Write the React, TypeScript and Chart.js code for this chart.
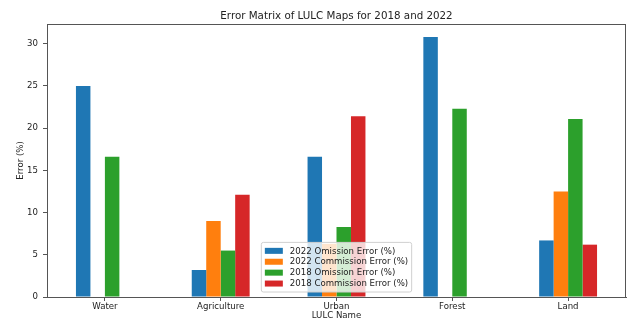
import React, { useEffect, useRef } from "react";
import { Chart, registerables } from "chart.js";

Chart.register(...registerables);

const categories = ["Water", "Agriculture", "Urban", "Forest", "Land"];
const omission2022 = [25.0, 3.2, 16.6, 30.8, 6.7];
const commission2022 = [0, 9.0, 6.3, 0, 12.5];
const omission2018 = [16.6, 5.5, 8.3, 22.3, 21.1];
const commission2018 = [0, 12.1, 21.4, 0, 6.2];
const yTickValues = [0, 5, 10, 15, 20, 25, 30];
const seriesLabels = [
  "2022 Omission Error (%)",
  "2022 Commission Error (%)",
  "2018 Omission Error (%)",
  "2018 Commission Error (%)",
];
const colors = ["#1f77b4", "#ff7f0e", "#2ca02c", "#d62728"];
const titleText = "Error Matrix of LULC Maps for 2018 and 2022";
const FONT = "'DejaVu Sans', sans-serif";

const framePlugin = {
  id: "frameAndExtras",
  afterDraw(chart: any) {
    const ctx = chart.ctx;
    const a = chart.chartArea;
    ctx.save();
    // frame
    ctx.strokeStyle = "#555";
    ctx.lineWidth = 1;
    ctx.strokeRect(Math.round(a.left) + 0.5, Math.round(a.top) + 0.5, Math.round(a.right - a.left) - 1, Math.round(a.bottom - a.top));
    // title
    ctx.fillStyle = "#222";
    ctx.font = `10.3px ${FONT}`;
    ctx.textAlign = "center";
    ctx.textBaseline = "middle";
    ctx.fillText(titleText, (a.left + a.right) / 2, 16.5);

    // legend
    const fs = 8.6;
    ctx.font = `${fs}px ${FONT}`;
    const ds = chart.data.datasets;
    let maxW = 0;
    ds.forEach((d: any) => { maxW = Math.max(maxW, ctx.measureText(d.label).width); });
    const padX = 3.5, sw = 18, gap = 7, rowH = 10.9, padY = 3;
    const w = padX + sw + gap + maxW + padX;
    const h = padY * 2 + rowH * ds.length;
    const x0 = (a.left + a.right) / 2 - w / 2;
    const y0 = a.bottom - 5 - h;
    ctx.beginPath();
    const r = 2;
    ctx.moveTo(x0 + r, y0);
    ctx.lineTo(x0 + w - r, y0);
    ctx.quadraticCurveTo(x0 + w, y0, x0 + w, y0 + r);
    ctx.lineTo(x0 + w, y0 + h - r);
    ctx.quadraticCurveTo(x0 + w, y0 + h, x0 + w - r, y0 + h);
    ctx.lineTo(x0 + r, y0 + h);
    ctx.quadraticCurveTo(x0, y0 + h, x0, y0 + h - r);
    ctx.lineTo(x0, y0 + r);
    ctx.quadraticCurveTo(x0, y0, x0 + r, y0);
    ctx.closePath();
    ctx.fillStyle = "rgba(255,255,255,0.8)";
    ctx.fill();
    ctx.strokeStyle = "#d0d0d0";
    ctx.stroke();
    ctx.textAlign = "left";
    ctx.textBaseline = "middle";
    ds.forEach((d: any, i: number) => {
      const cy = y0 + padY + rowH * i + rowH / 2;
      ctx.fillStyle = d.backgroundColor;
      ctx.fillRect(x0 + padX, cy - 3, sw, 6);
      ctx.fillStyle = "#222";
      ctx.fillText(d.label, x0 + padX + sw + gap, cy + 0.5);
    });
    ctx.restore();
  },
};

export default function App() {
  const ref = useRef<HTMLCanvasElement>(null);
  useEffect(() => {
    const seriesData = [omission2022, commission2022, omission2018, commission2018];
    const chart = new Chart(ref.current as HTMLCanvasElement, {
      type: "bar",
      data: {
        labels: categories,
        datasets: seriesData.map((arr, i) => ({
          label: seriesLabels[i],
          data: arr,
          backgroundColor: colors[i],
          borderWidth: 0,
          categoryPercentage: 0.5,
          barPercentage: 1.0,
        })),
      },
      options: {
        responsive: false,
        animation: false,
        devicePixelRatio: 1,
        layout: { padding: { left: 0, right: 4, top: 24, bottom: 0 } },
        plugins: {
          legend: { display: false },
          title: { display: false },
          tooltip: { enabled: false },
        },
        scales: {
          x: {
            offset: true,
            grid: { display: true, drawOnChartArea: false, drawTicks: true, tickLength: 4, offset: false, color: "#555" },
            border: { display: true, color: "#555" },
            ticks: { color: "#222", font: { family: FONT, size: 8.6 }, padding: 1, maxRotation: 0 },
            title: { display: true, text: "LULC Name", color: "#222", font: { family: FONT, size: 8.6 }, padding: { top: 0, bottom: 0 } },
            afterFit: (s: any) => { s.height = 24; },
          },
          y: {
            min: 0,
            max: 32.34,
            afterBuildTicks: (s: any) => { s.ticks = yTickValues.map((v) => ({ value: v })); },
            grid: { display: true, drawOnChartArea: false, drawTicks: true, tickLength: 4, color: "#555" },
            border: { display: true, color: "#555" },
            ticks: { color: "#222", font: { family: FONT, size: 8.6 }, padding: 5 },
            title: { display: true, text: "Error (%)", color: "#222", font: { family: FONT, size: 8.6 }, padding: { top: 16, bottom: 0 } },
            afterFit: (s: any) => { s.width = 47; },
          },
        },
      },
      plugins: [framePlugin],
    });
    return () => chart.destroy();
  }, []);
  return (
    <div style={{ position: "fixed", left: 0, top: 0, width: 630, height: 321, background: "#fff" }}>
      <canvas ref={ref} width={630} height={321} style={{ width: 630, height: 321, display: "block" }} />
    </div>
  );
}
